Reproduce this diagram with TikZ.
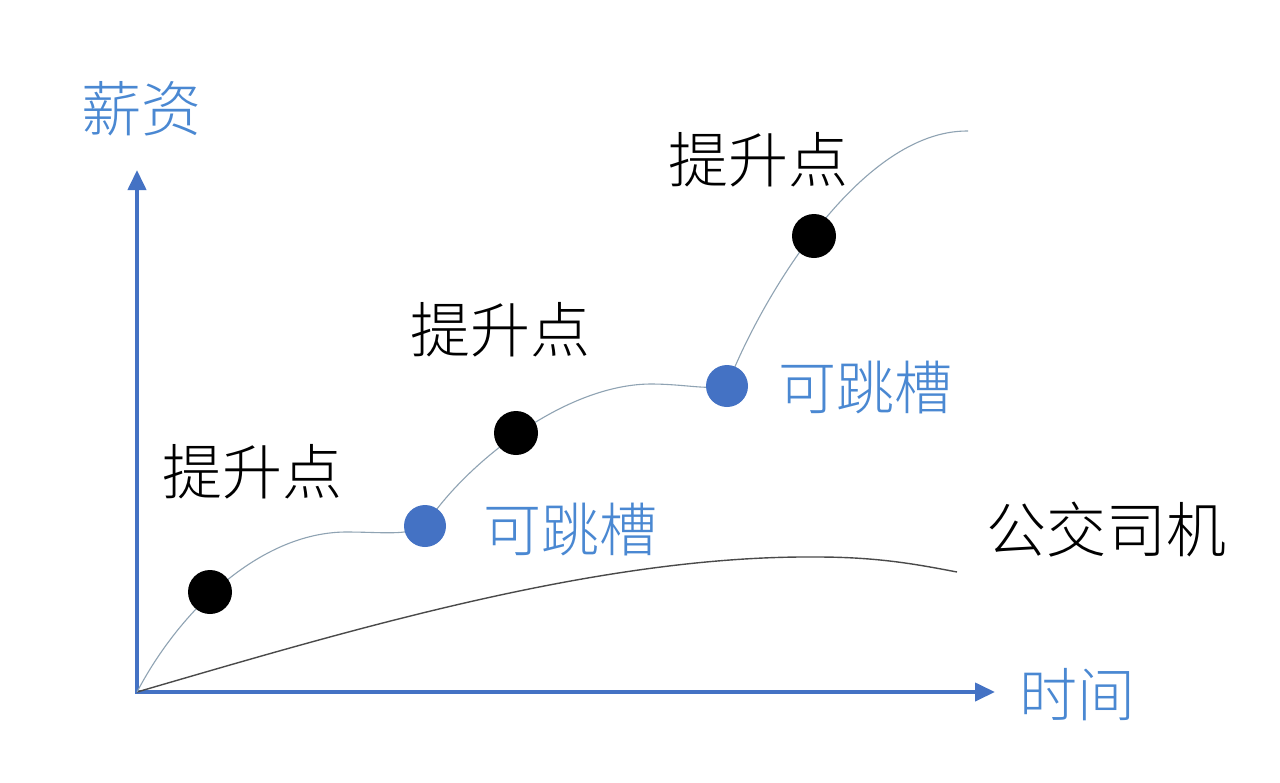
\documentclass[tikz,border=0pt]{standalone}
\usepackage{fontspec}
\newfontfamily\cjk{Noto Sans CJK SC}[UprightFont=* Light]
\usetikzlibrary{arrows.meta}
\definecolor{axisblue}{HTML}{4472C4}
\definecolor{textblue}{HTML}{4A88D2}
\definecolor{curvegray}{HTML}{8FA3B3}
\definecolor{busgray}{HTML}{4A4A4A}
\tikzset{
  axis/.style={axisblue,line width=4pt,line join=miter,{Triangle[length=20pt,width=18pt]}-{Triangle[length=20pt,width=18pt]}},
  career/.style={curvegray,line width=1.1pt},
  bus/.style={busgray,line width=1.4pt},
  bigdot/.style={circle,fill=black,inner sep=0pt,minimum size=44pt},
  bluedot/.style={circle,fill=axisblue,inner sep=0pt,minimum size=42pt},
  lbl/.style={font=\cjk\fontsize{60}{60}\selectfont,inner sep=0pt,text=black},
  bluelbl/.style={font=\cjk\fontsize{58}{58}\selectfont,inner sep=0pt,text=textblue},
}
\begin{document}
\begin{tikzpicture}[x=1pt,y=-1pt]
\useasboundingbox[fill=white] (0,0) rectangle (1280,782);
\coordinate (O) at (137,692);
\coordinate (ytop) at (137,170);
\coordinate (xend) at (995,692);
\coordinate (bpeak) at (817,557);
\coordinate (bend) at (957,572);
\coordinate (c1) at (345,532);
\coordinate (c2) at (650,384);
\coordinate (cend) at (968,131);
\coordinate (jp1) at (425,526);
\coordinate (jp2) at (727,386);
\draw[axis] (ytop) -- (O) -- (xend);
% bus driver curve
\draw[bus] (O) .. controls (350,630) and (600,555) .. (bpeak) .. controls (880,557) and (920,565) .. (bend);
% career curve
\draw[career] (O) .. controls (180,610) and (260,533) .. (c1) .. controls (385,532) and (405,536) .. (jp1);
\draw[career] (jp1) .. controls (460,470) and (560,385) .. (c2) .. controls (685,384) and (705,390) .. (jp2);
\draw[career] (jp2) .. controls (760,300) and (860,130) .. (cend);
% dots
\node[bigdot] (p1) at (210,592) {};
\node[bigdot] (p2) at (516,433) {};
\node[bigdot] (p3) at (814,236) {};
\node[bluedot] (j1) at (jp1) {};
\node[bluedot] (j2) at (jp2) {};
% labels
\node[lbl] (t1) at (252,472) {提升点};
\node[lbl] (t2) at (500,330) {提升点};
\node[lbl] (t3) at (758,160) {提升点};
\node[bluelbl] (k1) at (570,530) {可跳槽};
\node[bluelbl] (k2) at (865,388) {可跳槽};
\node[lbl] (bus) at (1106,530) {公交司机};
\node[bluelbl,font=\cjk\fontsize{60}{60}\selectfont] (ylab) at (141,109) {薪资};
\node[bluelbl] (xlab) at (1077,695) {时间};
\end{tikzpicture}
\end{document}
